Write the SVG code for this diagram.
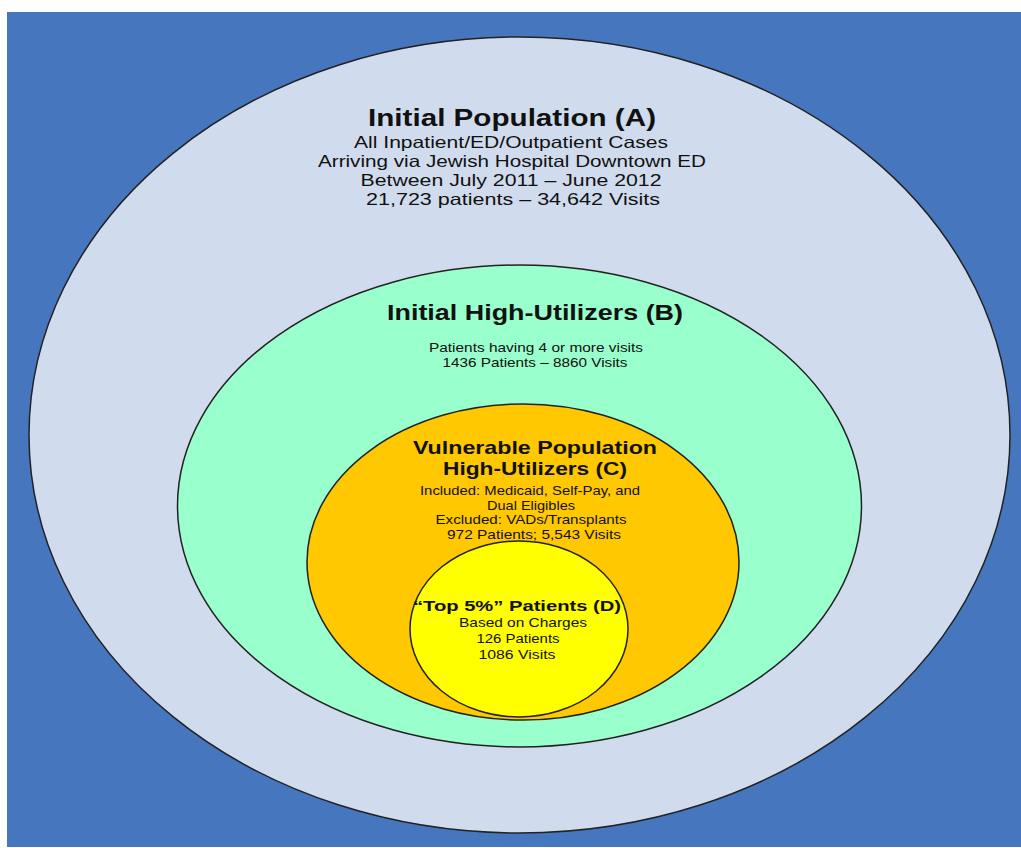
<svg xmlns="http://www.w3.org/2000/svg" width="1021" height="848" viewBox="0 0 1021 848">
<style>
text{font-family:"Liberation Sans",Arial,sans-serif;fill:#111;text-anchor:middle}
.t{font-weight:bold}
.e{stroke:#222;stroke-width:1.5}
</style>
<rect x="0" y="0" width="1021" height="848" fill="#ffffff"/>
<rect x="7" y="12" width="1014" height="835" fill="#4677BE"/>
<g id="nodeA">
<ellipse class="e" cx="519.5" cy="435" rx="490.5" ry="398" fill="#D0DCEE"/>
<text class="t" x="512" y="126" font-size="24" textLength="288" lengthAdjust="spacingAndGlyphs">Initial Population (A)</text>
<text x="511" y="148" font-size="16.5" textLength="314" lengthAdjust="spacingAndGlyphs">All Inpatient/ED/Outpatient Cases</text>
<text x="512" y="167" font-size="16.5" textLength="388" lengthAdjust="spacingAndGlyphs">Arriving via Jewish Hospital Downtown ED</text>
<text x="511" y="186" font-size="16.5" textLength="301" lengthAdjust="spacingAndGlyphs">Between July 2011 – June 2012</text>
<text x="513" y="205" font-size="16.5" textLength="294" lengthAdjust="spacingAndGlyphs">21,723 patients – 34,642 Visits</text>
</g>
<g id="nodeB">
<ellipse class="e" cx="519.5" cy="506" rx="342" ry="241" fill="#99FFCC"/>
<text class="t" x="535" y="320" font-size="22" textLength="296" lengthAdjust="spacingAndGlyphs">Initial High-Utilizers (B)</text>
<text x="536" y="352" font-size="13.5" textLength="214" lengthAdjust="spacingAndGlyphs">Patients having 4 or more visits</text>
<text x="535" y="367" font-size="13.5" textLength="185" lengthAdjust="spacingAndGlyphs">1436 Patients – 8860 Visits</text>
</g>
<g id="nodeC">
<ellipse class="e" cx="523" cy="562" rx="216" ry="158" fill="#FFC800"/>
<text class="t" x="535" y="454" font-size="19" textLength="244" lengthAdjust="spacingAndGlyphs">Vulnerable Population</text>
<text class="t" x="535" y="475" font-size="19" textLength="184" lengthAdjust="spacingAndGlyphs">High-Utilizers (C)</text>
<text x="530" y="495" font-size="13.5" textLength="220" lengthAdjust="spacingAndGlyphs">Included: Medicaid, Self-Pay, and</text>
<text x="531" y="510" font-size="13.5" textLength="88" lengthAdjust="spacingAndGlyphs">Dual Eligibles</text>
<text x="531" y="524" font-size="13.5" textLength="191" lengthAdjust="spacingAndGlyphs">Excluded: VADs/Transplants</text>
<text x="534" y="539" font-size="13.5" textLength="174" lengthAdjust="spacingAndGlyphs">972 Patients; 5,543 Visits</text>
</g>
<g id="nodeD">
<ellipse class="e" cx="519" cy="629" rx="109" ry="88" fill="#FFFF00"/>
<text class="t" x="517" y="611" font-size="15" textLength="208" lengthAdjust="spacingAndGlyphs">“Top 5%” Patients (D)</text>
<text x="523" y="627" font-size="13.5" textLength="128" lengthAdjust="spacingAndGlyphs">Based on Charges</text>
<text x="518" y="643" font-size="13.5" textLength="83" lengthAdjust="spacingAndGlyphs">126 Patients</text>
<text x="517" y="659" font-size="13.5" textLength="77" lengthAdjust="spacingAndGlyphs">1086 Visits</text>
</g>
<g id="connectors"/>
</svg>
